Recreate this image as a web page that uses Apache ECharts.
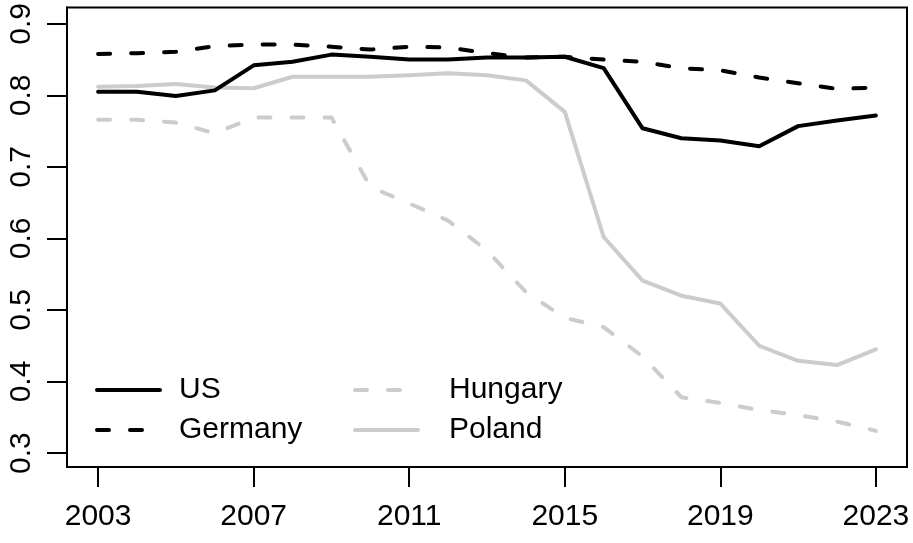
<!DOCTYPE html>
<html>
<head>
<meta charset="utf-8">
<script src="https://cdn.jsdelivr.net/npm/echarts@6/dist/echarts.min.js"></script>
<style>
  html, body { margin: 0; padding: 0; background: #ffffff; }
  #chart { width: 913px; height: 543px; }
</style>
</head>
<body>
<div id="chart"></div>
<script>
var years = [2003, 2004, 2005, 2006, 2007, 2008, 2009, 2010, 2011, 2012, 2013,
             2014, 2015, 2016, 2017, 2018, 2019, 2020, 2021, 2022, 2023];
var usValues = [0.805, 0.805, 0.799, 0.807, 0.842, 0.847, 0.857, 0.854, 0.850, 0.850, 0.853,
                0.853, 0.854, 0.838, 0.754, 0.740, 0.737, 0.729, 0.757, 0.765, 0.772];
var germanyValues = [0.858, 0.859, 0.861, 0.869, 0.871, 0.871, 0.868, 0.864, 0.868, 0.867, 0.859,
                     0.853, 0.854, 0.850, 0.847, 0.838, 0.835, 0.825, 0.817, 0.809, 0.811];
var hungaryValues = [0.766, 0.766, 0.762, 0.747, 0.769, 0.769, 0.769, 0.672, 0.649, 0.625, 0.583,
                     0.525, 0.489, 0.476, 0.435, 0.378, 0.370, 0.360, 0.353, 0.344, 0.331];
var polandValues = [0.812, 0.813, 0.816, 0.811, 0.810, 0.826, 0.826, 0.826, 0.828, 0.831, 0.828,
                    0.821, 0.777, 0.602, 0.541, 0.520, 0.509, 0.450, 0.429, 0.423, 0.445];
var xTicks = [2003, 2007, 2011, 2015, 2019, 2023];
var yTicks = [0.3, 0.4, 0.5, 0.6, 0.7, 0.8, 0.9];

(function() {
  var ink = '#000000';
  var gray = '#cccccc';
  var font = '"Liberation Sans", Arial, Helvetica, sans-serif';
  var dash = [12, 21];

  function pairs(vals) {
    return years.map(function(y, i) { return [y, vals[i]]; });
  }

  function line(name, vals, color, dashed) {
    return {
      name: name,
      type: 'line',
      data: pairs(vals),
      symbol: 'none',
      lineStyle: {
        color: color,
        width: 4,
        type: dashed ? dash : 'solid',
        cap: 'round',
        join: 'round'
      },
      itemStyle: { color: color }
    };
  }

  var legendText = { color: ink, fontSize: 30, fontFamily: font };

  // legend: line only, hide the marker dot
  function legendCol(names, left, textPad) {
    return {
      data: names,
      orient: 'vertical',
      left: left, top: 375, padding: 0,
      itemWidth: 63, itemHeight: 1, itemGap: 10,
      itemStyle: { opacity: 0, borderWidth: 0 },
      lineStyle: { width: 4 },
      textStyle: Object.assign({ padding: [0, 0, 0, textPad], lineHeight: 30 }, legendText)
    };
  }

  var chart = echarts.init(document.getElementById('chart'), null, { renderer: 'canvas' });
  chart.setOption({
    animation: false,
    backgroundColor: '#ffffff',
    grid: {
      left: 67, right: 6, top: 7, bottom: 76,
      show: true, borderColor: ink, borderWidth: 2
    },
    legend: [
      legendCol(['US', 'Germany'], 95, 14),
      legendCol(['Hungary', 'Poland'], 353, 26)
    ],
    xAxis: {
      type: 'value',
      min: 2002.2,
      max: 2023.8,
      axisLine: { show: true, lineStyle: { color: ink, width: 2 } },
      axisTick: { show: true, customValues: xTicks, length: 20, lineStyle: { color: ink, width: 2 } },
      axisLabel: {
        customValues: xTicks, color: ink, fontSize: 30, fontFamily: font, margin: 35,
        formatter: function(v) { return String(v); }
      },
      splitLine: { show: false }
    },
    yAxis: {
      type: 'value',
      min: 0.2805,
      max: 0.923,
      axisLine: { show: true, lineStyle: { color: ink, width: 2 } },
      axisTick: { show: true, customValues: yTicks, length: 20, lineStyle: { color: ink, width: 2 } },
      axisLabel: {
        customValues: yTicks, rotate: 90, color: ink, fontSize: 30, fontFamily: font, margin: 30,
        formatter: function(v) { return v.toFixed(1); }
      },
      splitLine: { show: false }
    },
    series: [
      line('Hungary', hungaryValues, gray, true),
      line('Poland', polandValues, gray, false),
      line('US', usValues, ink, false),
      line('Germany', germanyValues, ink, true)
    ]
  });
})();
</script>
</body>
</html>
